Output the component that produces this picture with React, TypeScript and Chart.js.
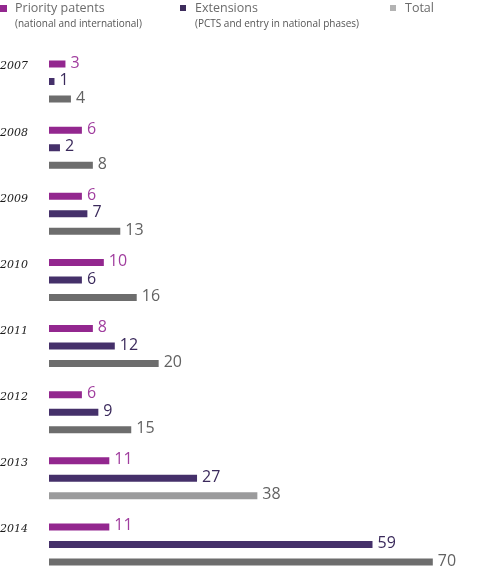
import React, { useEffect, useRef } from "react";
import { Chart, registerables } from "chart.js";

Chart.register(...registerables);

const years = ["2007", "2008", "2009", "2010", "2011", "2012", "2013", "2014"];
const priority = [3, 6, 6, 10, 8, 6, 11, 11];
const extensions = [1, 2, 7, 6, 12, 9, 27, 59];
const total = [4, 8, 13, 16, 20, 15, 38, 70];

const seriesNames = ["Priority patents", "Extensions", "Total"];
const seriesNotes = ["(national and international)", "(PCTS and entry in national phases)", ""];

const C_PRI = "#93278f";
const C_EXT = "#45306a";
const C_TOT = "#6d6d6d";
const C_TOT_LIGHT = "#9b9b9c";
const LABEL_COLORS = ["#a03d9e", "#3b2a5c", "#626262"];

const valueLabels = {
  id: "valueLabels",
  afterDatasetsDraw(chart: any) {
    const ctx = chart.ctx;
    ctx.save();
    ctx.font = '16px "Open Sans", sans-serif';
    ctx.textBaseline = "middle";
    ctx.textAlign = "left";
    chart.data.datasets.forEach((ds: any, di: number) => {
      const meta = chart.getDatasetMeta(di);
      ctx.fillStyle = LABEL_COLORS[di];
      meta.data.forEach((el: any, i: number) => {
        ctx.fillText(String(ds.data[i]), el.x + 5, el.y - 1);
      });
    });
    ctx.restore();
  },
};

export default function App() {
  const ref = useRef<HTMLCanvasElement>(null);
  useEffect(() => {
    if (!ref.current) return;
    const chart = new Chart(ref.current, {
      type: "bar",
      data: {
        labels: years,
        datasets: [
          { label: seriesNames[0], data: priority, backgroundColor: C_PRI },
          { label: seriesNames[1], data: extensions, backgroundColor: C_EXT },
          {
            label: seriesNames[2],
            data: total,
            backgroundColor: years.map((y) => (y === "2013" ? C_TOT_LIGHT : C_TOT)),
          },
        ],
      },
      options: {
        indexAxis: "y",
        animation: false,
        responsive: false,
        maintainAspectRatio: false,
        layout: { padding: { top: 48.5, bottom: 22.5, left: 0, right: 0 } },
        datasets: {
          bar: { maxBarThickness: 7, categoryPercentage: 0.795, barPercentage: 1 },
        },
        plugins: { legend: { display: false }, tooltip: { enabled: false } },
        scales: {
          x: { display: false, min: 0, max: 79.7 },
          y: {
            grid: { display: false },
            border: { display: false },
            afterFit: (s: any) => {
              s.width = 49;
            },
            ticks: {
              crossAlign: "far",
              labelOffset: -15,
              color: "#1a1a1a",
              font: { family: '"DejaVu Serif", serif', style: "italic", size: 11 },
            },
          },
        },
      },
      plugins: [valueLabels],
    });
    return () => chart.destroy();
  }, []);

  const legendItem = (left: number, color: string, name: string, note: string, sq: number) => (
    <div style={{ position: "absolute", left, top: 0 }}>
      <div style={{ position: "absolute", left: 0, top: 5, width: sq, height: sq, background: color }} />
      <div
        style={{
          position: "absolute",
          left: 15,
          top: 0,
          whiteSpace: "nowrap",
          fontFamily: '"Open Sans", sans-serif',
          fontSize: 12.5,
          lineHeight: "16px",
          color: "#6b6b6b",
        }}
      >
        {name}
      </div>
      {note ? (
        <div
          style={{
            position: "absolute",
            left: 15,
            top: 16,
            whiteSpace: "nowrap",
            fontFamily: '"Open Sans", sans-serif',
            fontSize: 10,
            lineHeight: "14px",
            color: "#555",
          }}
        >
          {note}
        </div>
      ) : null}
    </div>
  );

  return (
    <div style={{ position: "absolute", left: 0, top: 0, width: 486, height: 570, overflow: "hidden", background: "#fff" }}>
      <canvas ref={ref} width={486} height={600} style={{ position: "absolute", left: 0, top: 0, width: 486, height: 600 }} />
      {legendItem(0, C_PRI, seriesNames[0], seriesNotes[0], 7)}
      {legendItem(180, "#3d2c5c", seriesNames[1], seriesNotes[1], 6)}
      {legendItem(390, "#b3b3b3", seriesNames[2], seriesNotes[2], 6)}
    </div>
  );
}
